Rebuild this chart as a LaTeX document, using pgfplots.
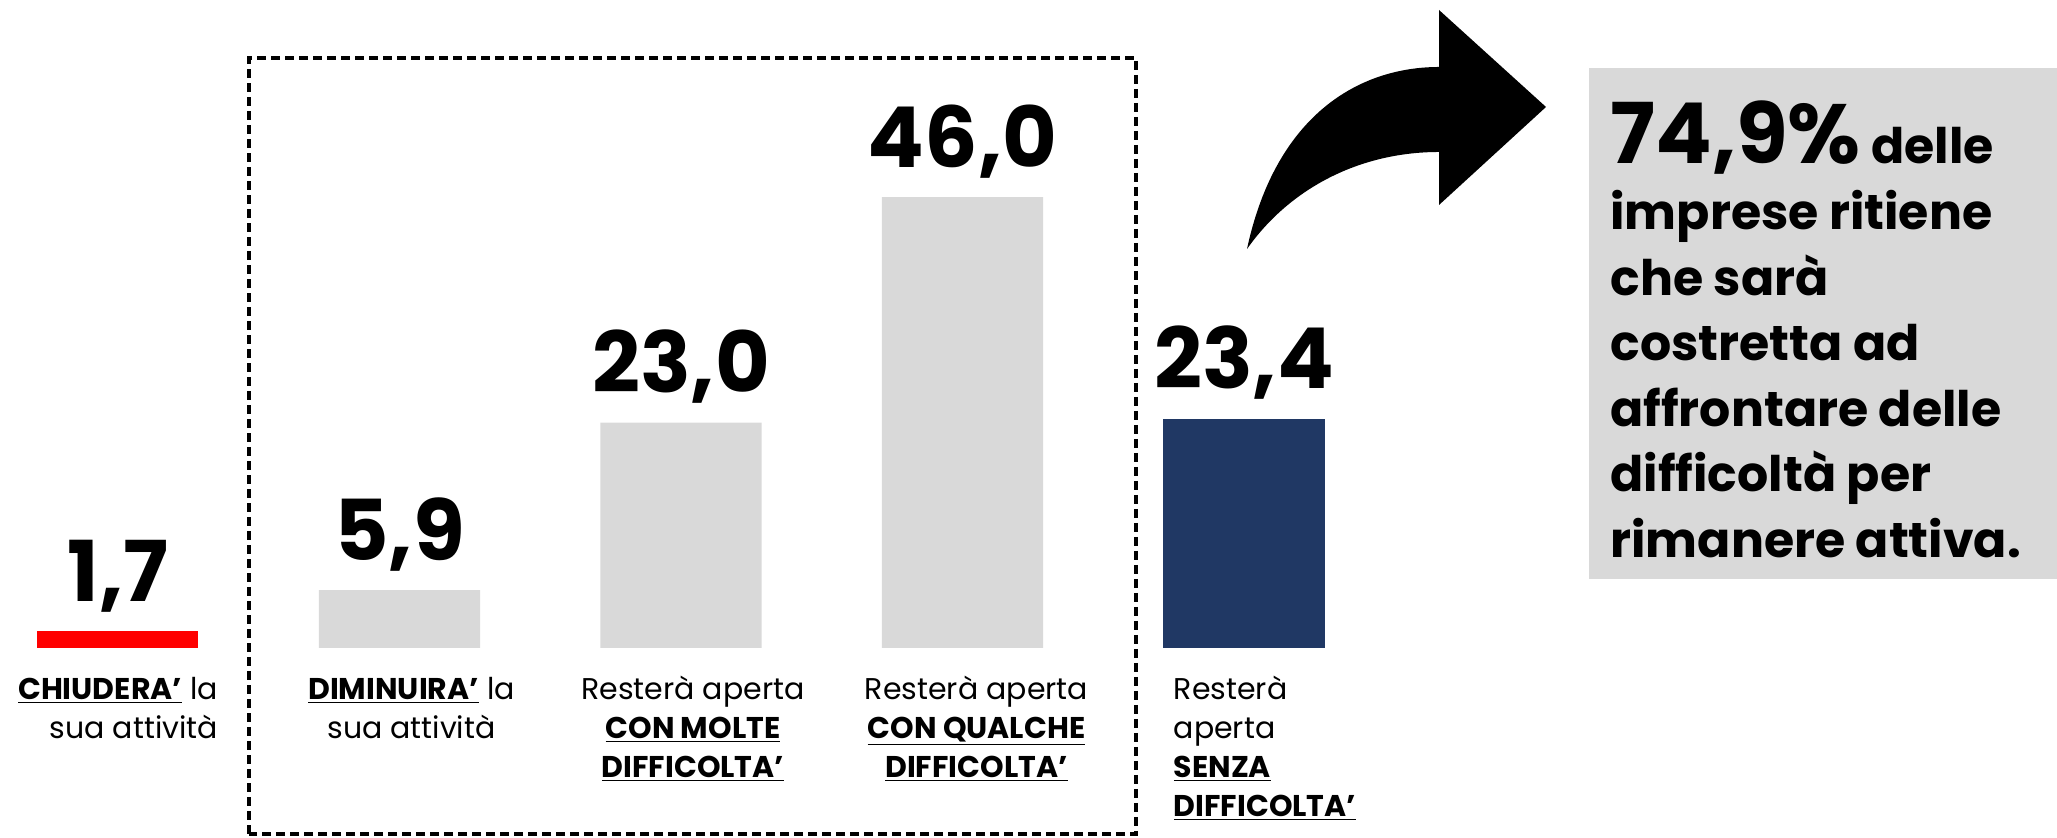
\documentclass[border=0pt]{standalone}
\usepackage{fontspec}
\setmainfont{Poppins}
\usepackage{pgfplots}
\pgfplotsset{compat=1.18}
\definecolor{barGray}{HTML}{D9D9D9}
\definecolor{navy}{HTML}{203864}
\newcommand{\ub}[1]{\underline{\textbf{#1}}}
\begin{document}
\begin{tikzpicture}
\path[use as bounding box] (0,0) rectangle (1028.5pt,419pt);
% grey note box
\fill[barGray] (794.5pt,129.5pt) rectangle (1028.5pt,385pt);
% dashed frame round the "difficulty" bars
\draw[line width=1.6pt, dash pattern=on 4.5pt off 2.5pt] (124.5pt,2pt) rectangle (568pt,390pt);
% curved arrow
\fill[black] (623.5pt,294.5pt) .. controls (638pt,362pt) and (680pt,385.5pt) .. (719.5pt,385.5pt)
  -- (719.5pt,414pt) -- (773pt,365.5pt) -- (719.5pt,316.5pt) -- (719.5pt,343pt)
  .. controls (680pt,343pt) and (645pt,325pt) .. cycle;

\begin{axis}[
  at={(-11.375pt,95pt)}, anchor=south west,
  scale only axis, width=703.75pt, height=294pt,
  xmin=-0.5, xmax=4.5, ymin=0, ymax=60,
  axis line style={draw=none}, tick style={draw=none},
  ytick=\empty, xtick={0,1,2,3,4},
  xticklabels={
    {\begin{tabular}[t]{@{}r@{}}\ub{CHIUDERA’} la\\sua attività\end{tabular}},
    {\begin{tabular}[t]{@{\hspace{12pt}}c@{}}\ub{DIMINUIRA’} la\\sua attività\end{tabular}},
    {\begin{tabular}[t]{@{\hspace{12pt}}c@{}}Resterà aperta\\\ub{CON MOLTE}\\\ub{DIFFICOLTA’}\end{tabular}},
    {\begin{tabular}[t]{@{\hspace{14pt}}c@{}}Resterà aperta\\\ub{CON QUALCHE}\\\ub{DIFFICOLTA’}\end{tabular}},
    {\begin{tabular}[t]{@{\hspace{21pt}}l@{}}Resterà\\aperta\\\ub{SENZA}\\\ub{DIFFICOLTA’}\end{tabular}}},
  xticklabel style={font=\fontsize{15}{19.5}\selectfont, anchor=north, inner sep=0pt, yshift=-11.8pt},
  nodes near coords={\pgfmathprintnumber[fixed,fixed zerofill,precision=1,use comma,assume math mode=true]{\pgfplotspointmeta}},
  every node near coord/.append style={font=\fontsize{42}{42}\selectfont\bfseries, anchor=base, inner sep=0pt, yshift=15pt},
]
\addplot[ybar, bar width=80.5pt, bar shift=0pt, fill=red, draw=none] coordinates {(0,1.7)};
\addplot[ybar, bar width=80.5pt, bar shift=0pt, fill=barGray, draw=none] coordinates {(1,5.9) (2,23.0) (3,46.0)};
\addplot[ybar, bar width=80.5pt, bar shift=0pt, fill=navy, draw=none] coordinates {(4,23.4)};
\end{axis}

\node[anchor=base west, inner sep=0pt] at (805pt,337pt) {\parbox[t]{222pt}{\raggedright\fontsize{24.5}{32.8}\selectfont\bfseries
{\fontsize{42}{32.8}\selectfont 74,9\%} delle\\
imprese ritiene\\
che sarà\\
costretta ad\\
affrontare delle\\
difficoltà per\\
rimanere attiva.}};
\end{tikzpicture}
\end{document}
